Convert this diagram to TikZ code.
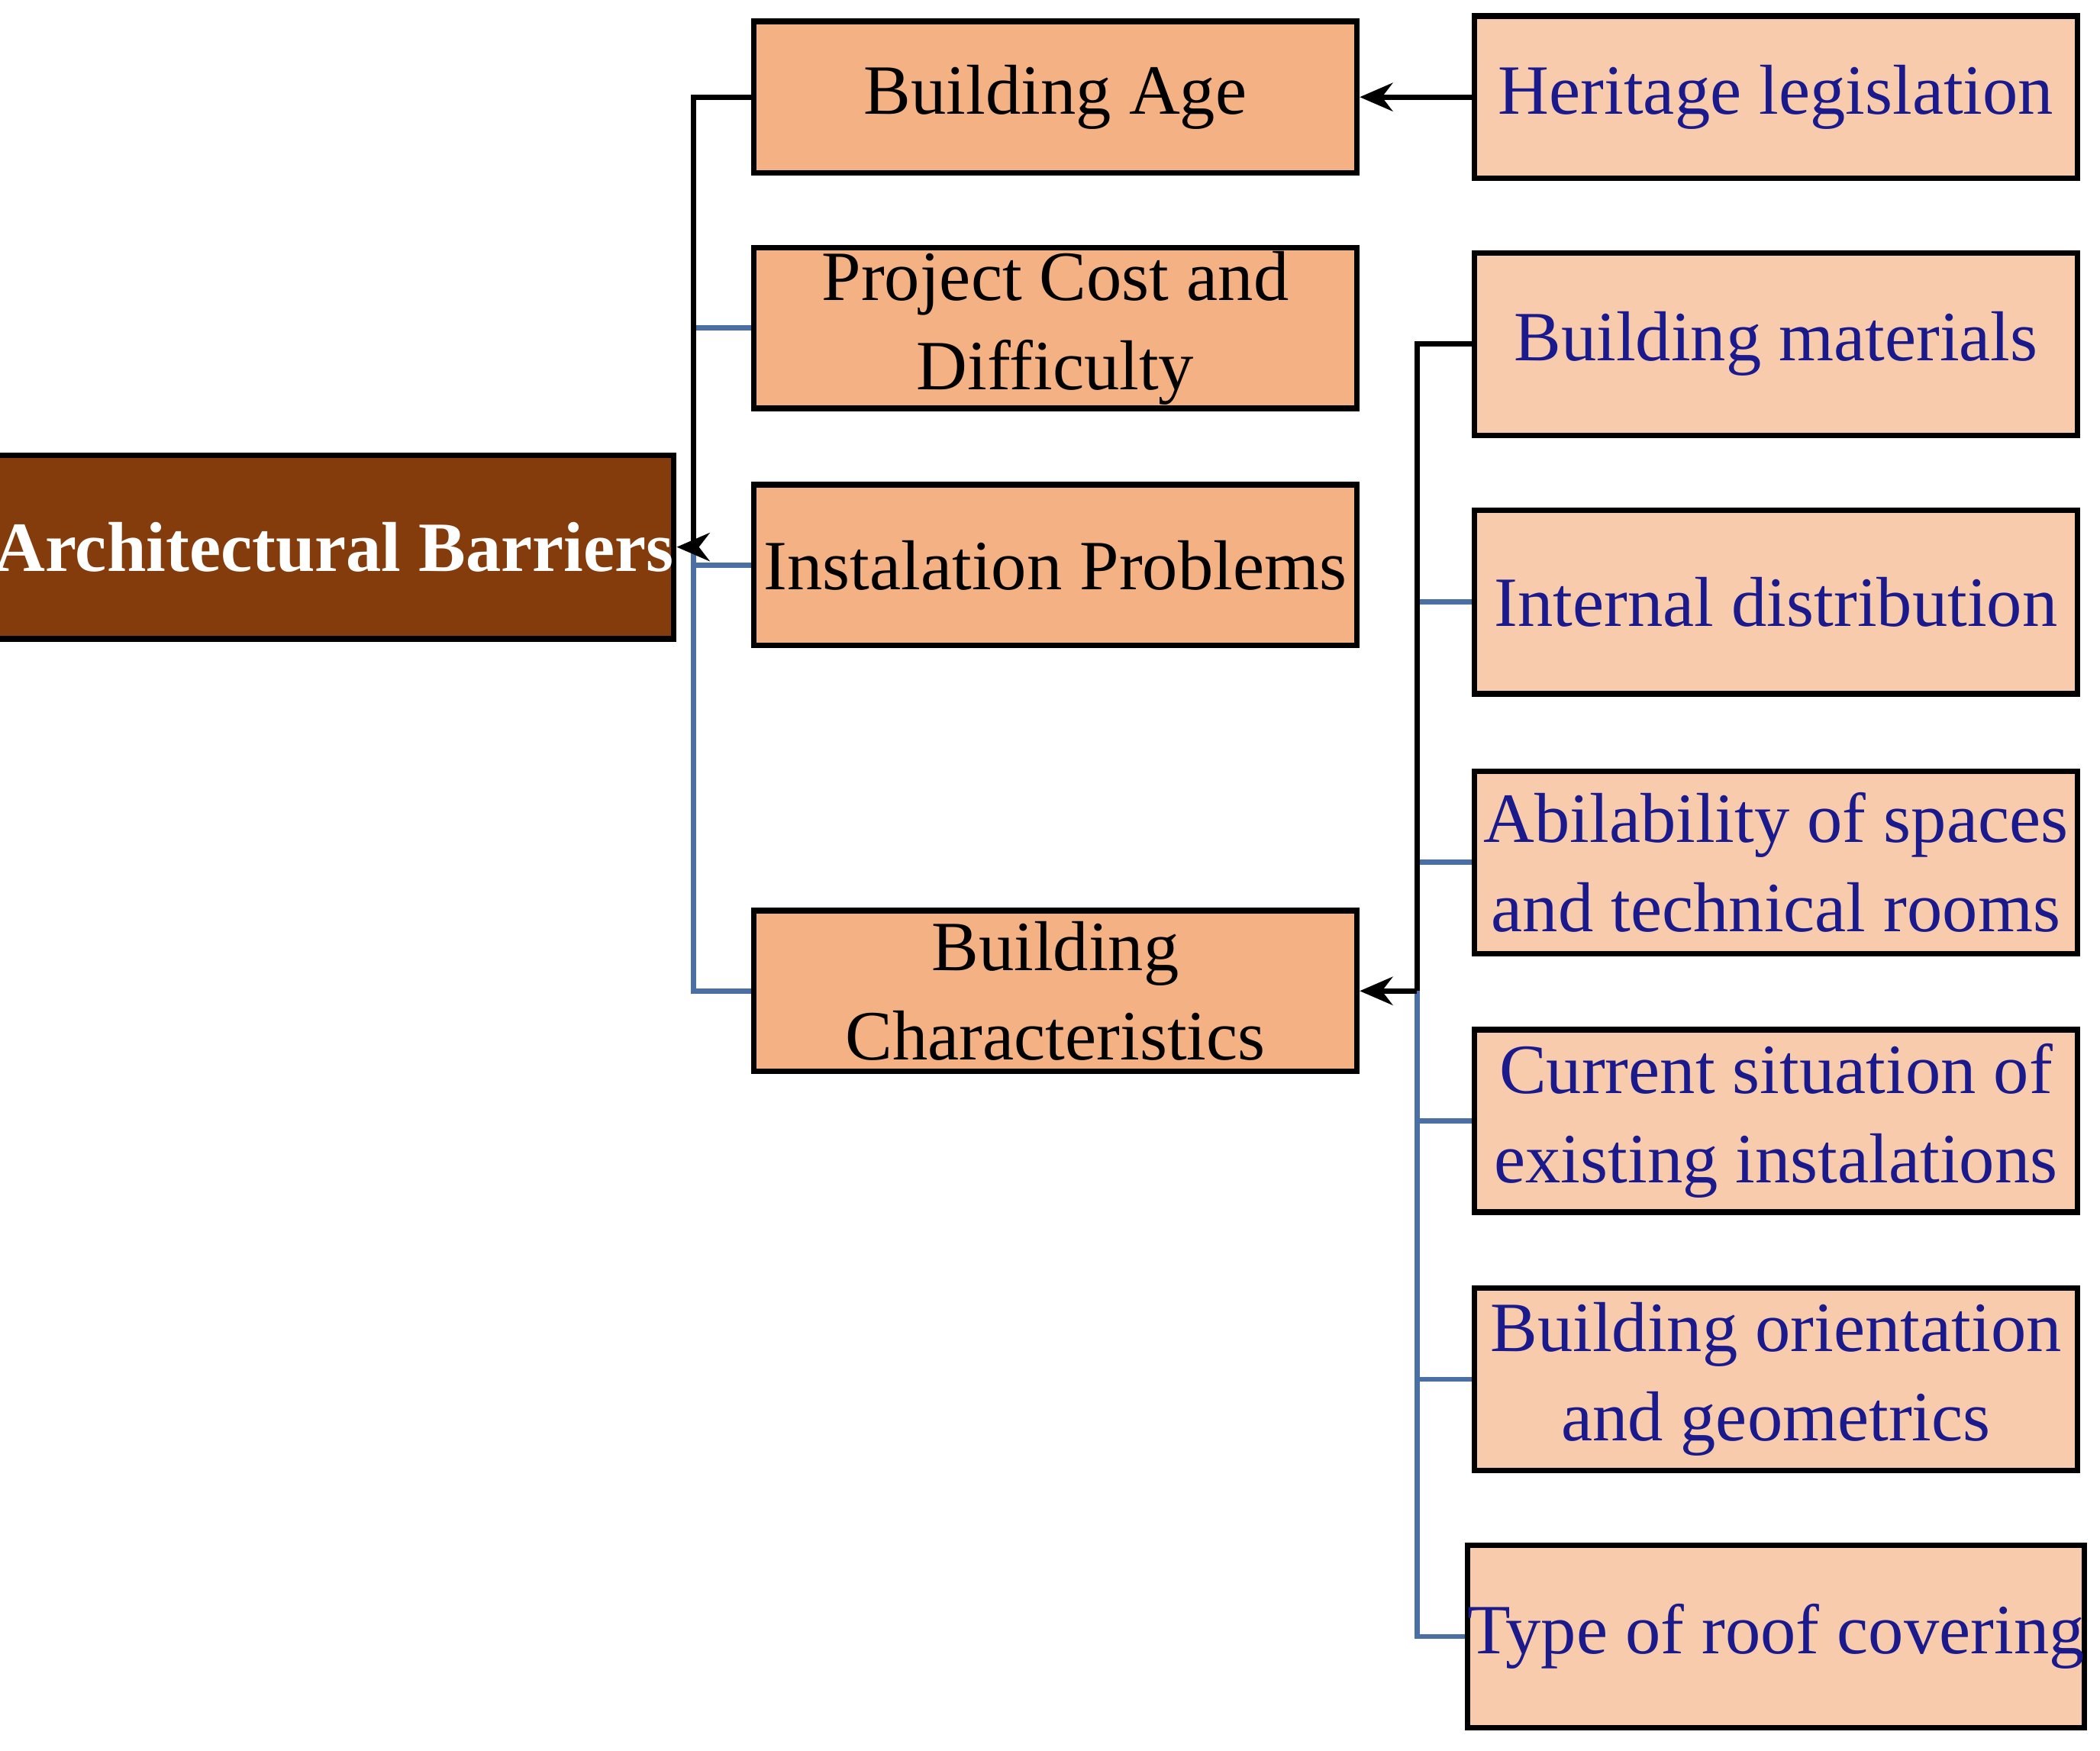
\documentclass[tikz,border=0pt]{standalone}
\usepackage{fontspec}
\setmainfont{Liberation Serif}
\usetikzlibrary{arrows.meta}
\definecolor{dbrown}{HTML}{843C0C}
\definecolor{mid}{HTML}{F4B183}
\definecolor{light}{HTML}{F8CBAD}
\definecolor{navy}{HTML}{1A1A8C}
\definecolor{lblue}{HTML}{4A6FA5}
\begin{document}
\begin{tikzpicture}[x=0.01cm,y=-0.01cm,
  box/.style={draw=black,line width=1.2pt,minimum width=4.5cm,align=center,inner sep=0pt,font=\fontsize{15}{19}\selectfont},
  midb/.style={box,fill=mid},
  rb/.style={box,fill=light,text=navy},
  blk/.style={draw=black,line width=1.1pt},
  blu/.style={draw=lblue,line width=1.1pt},
  arr/.style={-{Stealth[length=7pt,width=6pt]}}]
\useasboundingbox (0,0) rectangle (1568,1307);
\node[box,fill=dbrown,text=white,font=\bfseries\fontsize{15}{19}\selectfont,minimum width=4.49cm,minimum height=1.37cm] (ab) at (249.5,408.5) {Architectural Barriers};
\node[midb,minimum height=1.13cm] (ba) at (788,72.5) {Building Age};
\node[midb,minimum height=1.2cm] (pc) at (788,245) {Project Cost and\\Difficulty};
\node[midb,minimum height=1.2cm] (ip) at (788,422) {Instalation Problems};
\node[midb,minimum height=1.2cm] (bc) at (788,740) {Building\\Characteristics};
\node[rb,minimum height=1.21cm] (hl) at (1326,72.5) {Heritage legislation};
\node[rb,minimum height=1.36cm] (bm) at (1326,257) {Building materials};
\node[rb,minimum height=1.37cm] (id) at (1326,449.5) {Internal distribution};
\node[rb,minimum height=1.36cm] (as) at (1326,644) {Abilability of spaces\\and technical rooms};
\node[rb,minimum height=1.36cm] (cs) at (1326,837) {Current situation of\\existing instalations};
\node[rb,minimum height=1.36cm] (bo) at (1326,1030) {Building orientation\\and geometrics};
\node[rb,minimum height=1.36cm] (tr) at (1326,1222) {Type of roof covering};
\coordinate (lt) at (518,408.5);
\coordinate (rt) at (1058,740);
% left
\draw[blu] (pc.west) -- (pc.west -| lt);
\draw[blu] (ip.west) -- (ip.west -| lt);
\draw[blu] (bc.west) -- (bc.west -| lt) -- (lt);
\draw[blk] (ba.west) -- (ba.west -| lt) -- (lt);
\draw[blk,arr] (lt) -- (ab.east);
% top
\draw[blk,arr] (hl.west) -- (ba.east);
% right
\draw[blu] (id.west) -- (id.west -| rt);
\draw[blu] (as.west) -- (as.west -| rt);
\draw[blu] (cs.west) -- (cs.west -| rt);
\draw[blu] (bo.west) -- (bo.west -| rt);
\draw[blu] (tr.west) -- (tr.west -| rt) -- (rt);
\draw[blk] (bm.west) -- (bm.west -| rt) -- (rt);
\draw[blk,arr] (rt) -- (bc.east);
\end{tikzpicture}
\end{document}
